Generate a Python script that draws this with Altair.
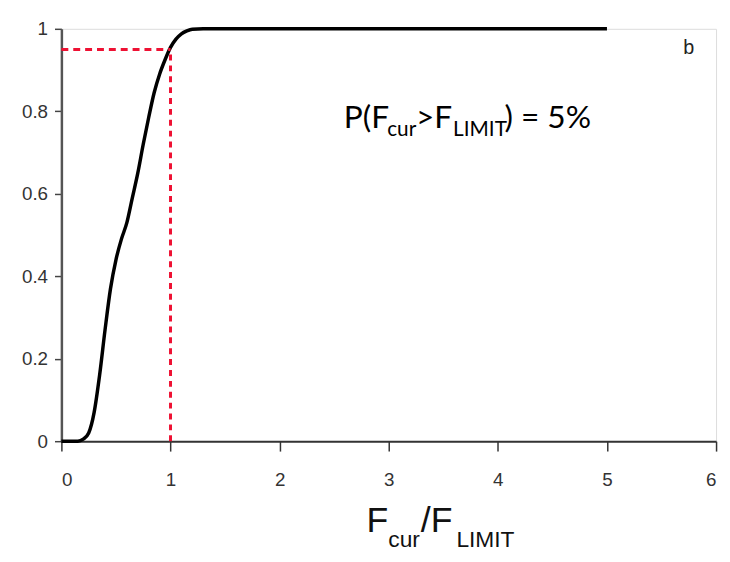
import altair as alt
import pandas as pd

# CDF curve
cdf_x = [0.0, 0.15, 0.2, 0.25, 0.3, 0.35, 0.4, 0.45, 0.5, 0.55, 0.6, 0.65, 0.7, 0.75,
         0.8, 0.85, 0.9, 0.95, 1.0, 1.05, 1.1, 1.15, 1.2, 1.3, 5.0]
cdf_y = [0.0, 0.0, 0.005, 0.02, 0.07, 0.16, 0.27, 0.37, 0.44, 0.49, 0.53, 0.59, 0.65, 0.72,
         0.785, 0.845, 0.89, 0.925, 0.955, 0.975, 0.988, 0.995, 0.999, 1.0, 1.0]

limit_x = 1.0
limit_p = 0.95

x_ticks = [0, 1, 2, 3, 4, 5, 6]
y_ticks = [0, 0.2, 0.4, 0.6, 0.8, 1.0]

# annotation "P(Fcur>FLIMIT) = 5%" split into normal/subscript segments
ann_text = ["P(F", "cur", ">F", "LIMIT", ") = 5%"]
ann_x = [2.588, 2.986, 3.25, 3.59, 4.06]
ann_sub = [False, True, False, True, False]
ann_y = 0.76

# axis title "Fcur/FLIMIT"
xt_text = ["F", "cur", "/F", "LIMIT"]
xt_x = [2.796, 2.996, 3.294, 3.62]
xt_sub = [False, True, False, True]

W, H = 662, 417

curve_df = pd.DataFrame({"x": cdf_x, "y": cdf_y})

curve = alt.Chart(curve_df).mark_line(color="black", strokeWidth=3.5,
                                      interpolate="monotone").encode(
    x=alt.X("x:Q", scale=alt.Scale(domain=[0, 6], nice=False),
            axis=alt.Axis(values=x_ticks, format="d", title=None, grid=False,
                          tickSize=10, labelPadding=20, domainColor="#333",
                          tickColor="#333", labelColor="#333",
                          labelFont="Liberation Sans", labelFontSize=19,
                          domainWidth=2, tickWidth=1.5)),
    y=alt.Y("y:Q", scale=alt.Scale(domain=[0, 1], nice=False),
            axis=alt.Axis(values=y_ticks, format=".1~f", title=None, grid=False,
                          tickSize=7, labelPadding=7, domainColor="#555",
                          tickColor="#444", labelColor="#333",
                          labelFont="Liberation Sans", labelFontSize=19,
                          domainWidth=2.5, tickWidth=1.5)),
)

hline_df = pd.DataFrame({"x": [0.0], "x2": [limit_x], "y": [limit_p]})
hline = alt.Chart(hline_df).mark_rule(color="#ee1133", strokeWidth=3,
                                      strokeDash=[7, 5]).encode(
    x="x:Q", x2="x2:Q", y="y:Q")

vline_df = pd.DataFrame({"x": [limit_x], "y": [0.0], "y2": [limit_p]})
vline = alt.Chart(vline_df).mark_rule(color="#ee1133", strokeWidth=3,
                                      strokeDash=[6, 5]).encode(
    x="x:Q", y="y:Q", y2="y2:Q")

ann_df = pd.DataFrame({"t": ann_text, "x": ann_x, "sub": ann_sub})
ann_main = alt.Chart(ann_df[~ann_df["sub"]]).mark_text(
    align="left", baseline="alphabetic", font="Lato", fontSize=32, color="black"
).encode(x="x:Q", y=alt.datum(ann_y), text="t:N")
ann_subs = alt.Chart(ann_df[ann_df["sub"]]).mark_text(
    align="left", baseline="alphabetic", font="Lato", fontSize=21, color="black", dy=8
).encode(x="x:Q", y=alt.datum(ann_y), text="t:N")

b_df = pd.DataFrame({"t": ["b"], "x": [5.75], "y": [0.954]})
b_label = alt.Chart(b_df).mark_text(font="Liberation Sans", fontSize=20,
                                    baseline="middle", color="#222").encode(
    x="x:Q", y="y:Q", text="t:N")

xt_df = pd.DataFrame({"t": xt_text, "x": xt_x, "sub": xt_sub})
xt_main = alt.Chart(xt_df[~xt_df["sub"]]).mark_text(
    align="left", baseline="alphabetic", font="Liberation Sans",
    fontSize=36, color="#111"
).encode(x="x:Q", y=alt.value(H + 92), text="t:N")
xt_subs = alt.Chart(xt_df[xt_df["sub"]]).mark_text(
    align="left", baseline="alphabetic", font="Liberation Sans",
    fontSize=23, color="#111"
).encode(x="x:Q", y=alt.value(H + 107), text="t:N")

chart = alt.layer(curve, hline, vline, ann_main, ann_subs, b_label, xt_main, xt_subs).properties(
    width=W, height=H,
    autosize=alt.AutoSizeParams(type="none"),
    padding={"left": 54, "top": 18, "right": 6, "bottom": 110},
).configure_view(stroke="#333", strokeWidth=2).configure(background="white")

chart.save("out.html", embed_options={"renderer": "svg", "actions": False})
